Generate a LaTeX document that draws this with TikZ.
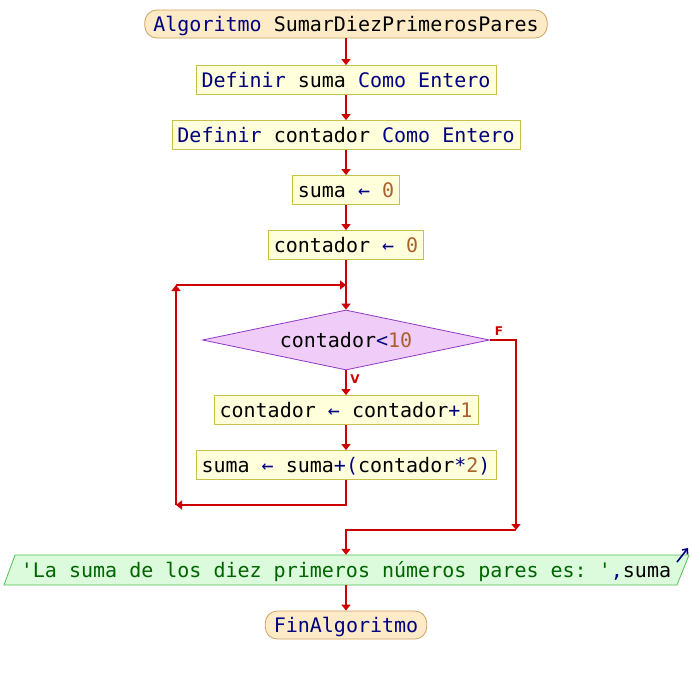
\documentclass[tikz,border=0pt]{standalone}
\usepackage{fontspec}
\setmonofont{DejaVu Sans Mono}
\newfontfamily\etiquetafont{DejaVu Sans}
\usetikzlibrary{shapes.geometric,arrows.meta}
\definecolor{flecha}{HTML}{CC0000}
\definecolor{palabra}{HTML}{000080}
\definecolor{numero}{HTML}{A8602C}
\definecolor{cadena}{HTML}{006400}
\definecolor{fondoproc}{HTML}{FFFFDC}
\definecolor{bordeproc}{HTML}{C8C048}
\definecolor{fondoinicio}{HTML}{FCEBC6}
\definecolor{bordeinicio}{HTML}{D0A060}
\definecolor{fondocond}{HTML}{F0CCF8}
\definecolor{bordecond}{HTML}{9038C0}
\definecolor{fondosalida}{HTML}{DCFADC}
\definecolor{bordesalida}{HTML}{50C050}
\newcommand{\kw}[1]{\textcolor{palabra}{#1}}
\newcommand{\nmb}[1]{\textcolor{numero}{#1}}
\newcommand{\strg}[1]{\textcolor{cadena}{#1}}
\tikzset{
	codigo/.style={font=\ttfamily\fontsize{20}{24}\selectfont, text height=16pt, text depth=2pt},
	inicio/.style={codigo, rectangle, rounded corners=12pt, draw=bordeinicio, fill=fondoinicio, line width=0.8pt, minimum height=28pt, inner xsep=8.5pt, inner ysep=0pt},
	proceso/.style={codigo, rectangle, draw=bordeproc, fill=fondoproc, line width=0.8pt, minimum height=29pt, inner xsep=5.5pt, inner ysep=0pt},
	decision/.style={codigo, diamond, aspect=4.8, draw=bordecond, fill=fondocond, line width=0.8pt, minimum width=287pt, minimum height=60pt, inner sep=0pt},
	salida/.style={codigo, rectangle, minimum height=30pt, inner sep=0pt},
	flujo/.style={draw=flecha, line width=1.6pt, -{Triangle[length=6pt,width=9pt]}},
	rotulo/.style={text=flecha, font=\etiquetafont\bfseries\fontsize{12}{13}\selectfont, inner sep=0pt}
}
\begin{document}
\begin{tikzpicture}[x=1pt, y=-1pt]
	\useasboundingbox (0,0) rectangle (692,675);

	\node[inicio] (inicio) at (346,24) {\kw{Algoritmo} SumarDiezPrimerosPares};
	\node[proceso] (def1) at (346,80) {\kw{Definir} suma \kw{Como Entero}};
	\node[proceso] (def2) at (346,135) {\kw{Definir} contador \kw{Como Entero}};
	\node[proceso] (asig1) at (346,190) {suma \kw{←} \nmb{0}};
	\node[proceso] (asig2) at (346,245) {contador \kw{←} \nmb{0}};
	\node[decision] (cond) at (346,340) {contador\kw{<}\nmb{10}};
	\node[proceso] (inc) at (346,410) {contador \kw{←} contador\kw{+}\nmb{1}};
	\node[proceso] (acum) at (346,465) {suma \kw{←} suma\kw{+(}contador\kw{*}\nmb{2}\kw{)}};
	\filldraw[draw=bordesalida, fill=fondosalida, line width=0.8pt] (4,585) -- (677,585) -- (689,555) -- (15,555) -- cycle;
	\node[salida] (salida) at (346,570) {\strg{'La suma de los diez primeros números pares es: '}\kw{,}suma};
	\node[inicio] (fin) at (346,625) {\kw{FinAlgoritmo}};

	\coordinate (retorno) at (176,505);
	\coordinate (subida) at (176,285);
	\coordinate (union) at (346,285);
	\coordinate (bajada) at (516,530);
	\coordinate (ojo1) at (677,562);
	\coordinate (ojo2) at (688,548);

	\draw[flujo] (inicio) -- (def1);
	\draw[flujo] (def1) -- (def2);
	\draw[flujo] (def2) -- (asig1);
	\draw[flujo] (asig1) -- (asig2);
	\draw[flujo] (asig2) -- (cond);
	\draw[flujo] (cond) -- (inc);
	\draw[flujo] (inc) -- (acum);
	\draw[flujo] (acum) |- (retorno);
	\draw[flujo] (retorno) -- (subida);
	\draw[flujo] (subida) -- (union);
	\draw[flujo] (cond.east) -| (bajada);
	\draw[flujo] (bajada) -| (salida.north);
	\draw[flujo] (salida) -- (fin);
	\draw[palabra, line width=1.6pt, -{Straight Barb[length=4pt,width=7pt]}] (ojo1) -- (ojo2);

	\node[rotulo] (falso) at (499,331) {F};
	\node[rotulo] (verdad) at (355,379) {V};
\end{tikzpicture}
\end{document}
